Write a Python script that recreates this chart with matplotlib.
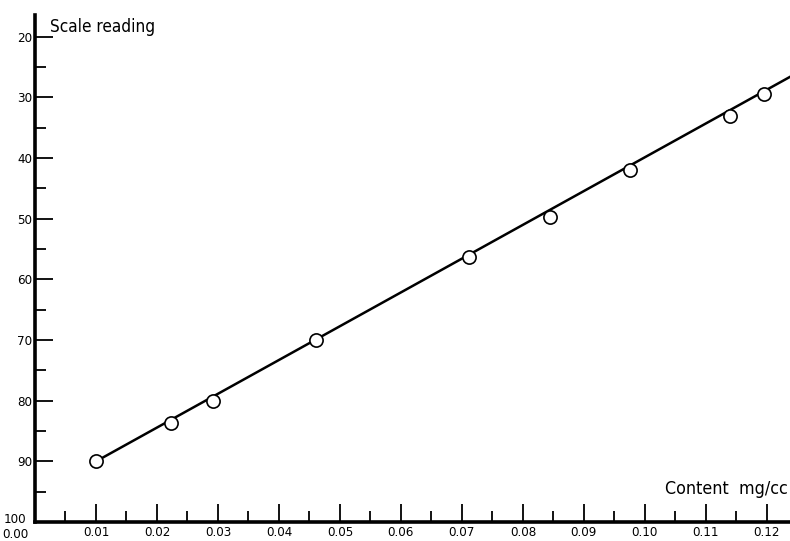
import numpy as np
import matplotlib
matplotlib.use("Agg")
from matplotlib import pyplot as plt
from matplotlib.ticker import FixedLocator

# calibration points
content = [0.010, 0.0223, 0.0292, 0.0461, 0.0711, 0.0845, 0.0976, 0.1140, 0.1195]
reading = [90.0, 83.6, 80.0, 70.0, 56.3, 49.7, 42.0, 33.0, 29.5]

# drawn calibration line (end points)
line_x = [0.010, 0.1238]
line_y = [90.0, 26.6]

x_ticks = [0.00, 0.01, 0.02, 0.03, 0.04, 0.05, 0.06, 0.07, 0.08, 0.09, 0.10, 0.11, 0.12]
x_labels = ["0.00", "0.01", "0.02", "0.03", "0.04", "0.05", "0.06",
            "0.07", "0.08", "0.09", "0.10", "0.11", "0.12"]
y_ticks = [20, 30, 40, 50, 60, 70, 80, 90, 100]
y_labels = ["20", "30", "40", "50", "60", "70", "80", "90", "100"]

plt.rcParams['font.family'] = ['DejaVu Sans']
plt.rcParams['font.stretch'] = 'condensed'

fig = plt.figure(figsize=(7.9, 5.41), dpi=100)
ax = fig.add_axes([35 / 790, 19 / 541, 755 / 790, 507 / 541])

ax.plot(line_x, line_y, color='black', lw=1.8, zorder=2)
ax.plot(content, reading, 'o', ms=9.5, mfc='white', mec='black', mew=1.2, zorder=3)

ax.set_xlim(0, 0.1238)
ax.set_ylim(100, 16.4)

for s in ['top', 'right']:
    ax.spines[s].set_visible(False)
for s in ['left', 'bottom']:
    ax.spines[s].set_linewidth(2.6)

# corner labels (0.00 and 100) are placed by hand so they don't collide
ax.xaxis.set_major_locator(FixedLocator(x_ticks))
ax.set_xticklabels([""] + x_labels[1:])
ax.xaxis.set_minor_locator(FixedLocator([0.005 + 0.01 * i for i in range(12)]))
ax.yaxis.set_major_locator(FixedLocator(y_ticks))
ax.set_yticklabels(y_labels[:-1] + [""])
ax.yaxis.set_minor_locator(FixedLocator([25 + 10 * i for i in range(8)]))

ax.tick_params(which='major', direction='in', length=13, width=1.3, labelsize=9.5, pad=2)
ax.tick_params(axis='x', which='major', pad=3)
ax.tick_params(which='minor', direction='in', length=8, width=1.3)

ax.annotate(x_labels[0], xy=(0, 100), xytext=(-5, -4), textcoords='offset points',
            ha='right', va='top', fontsize=9.5)
ax.annotate(y_labels[-1], xy=(0, 100), xytext=(-6, 2), textcoords='offset points',
            ha='right', va='center', fontsize=9.5)

ax.text(0.0025, 18.4, "Scale reading", fontsize=12.3, va='center', ha='left')
ax.text(0.1234, 94.6, "Content  mg/cc", fontsize=12.8, va='center', ha='right')

plt.savefig("out.png", dpi=100)
